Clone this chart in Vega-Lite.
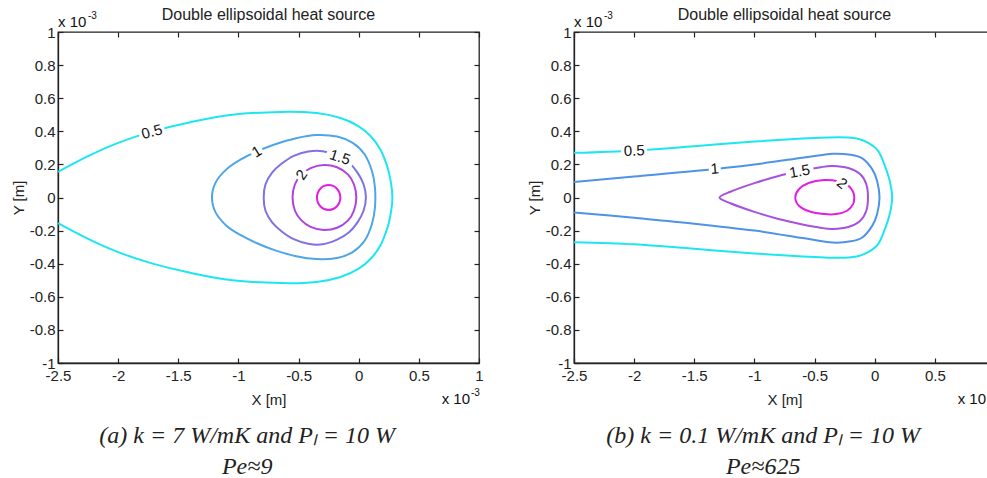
{
  "$schema": "https://vega.github.io/schema/vega-lite/v6.json",
  "padding": {"top": 6, "left": 10, "right": 0, "bottom": 0},
  "background": "white",
  "spacing": 42,
  "config": {
    "view": {"stroke": "#222", "strokeWidth": 1.3},
    "axis": {
      "grid": false, "domainColor": "#222", "domainWidth": 1.3, "tickColor": "#222", "tickWidth": 1.2, "tickSize": -5,
      "labelFont": "Liberation Sans", "labelFontSize": 15, "labelColor": "#222", "labelPadding": 8,
      "labelOverlap": false, "labelBound": false, "labelFlush": false,
      "titleFont": "Liberation Sans", "titleFontSize": 15, "titleFontWeight": "normal", "titleColor": "#222"
    },
    "axisX": {"labelPadding": 10},
    "title": {"font": "Liberation Sans", "fontSize": 16, "fontWeight": "normal", "color": "#222", "offset": -12},
    "text": {"font": "Liberation Sans", "fontSize": 15, "color": "#111"}
  },
  "datasets": {
    "contours": [
      {"panel":"a","level":"0.5","closed":false,"i":0,"x":-2.5,"y":0.155},
      {"panel":"a","level":"0.5","closed":false,"i":1,"x":-2.25,"y":0.25},
      {"panel":"a","level":"0.5","closed":false,"i":2,"x":-2.0,"y":0.33},
      {"panel":"a","level":"0.5","closed":false,"i":3,"x":-1.72,"y":0.398},
      {"panel":"a","level":"0.5","closed":false,"i":4,"x":-1.4,"y":0.455},
      {"panel":"a","level":"0.5","closed":false,"i":5,"x":-1.05,"y":0.5},
      {"panel":"a","level":"0.5","closed":false,"i":6,"x":-0.65,"y":0.517},
      {"panel":"a","level":"0.5","closed":false,"i":7,"x":-0.35,"y":0.51},
      {"panel":"a","level":"0.5","closed":false,"i":8,"x":-0.15,"y":0.48},
      {"panel":"a","level":"0.5","closed":false,"i":9,"x":0.0,"y":0.43},
      {"panel":"a","level":"0.5","closed":false,"i":10,"x":0.1,"y":0.37},
      {"panel":"a","level":"0.5","closed":false,"i":11,"x":0.18,"y":0.29},
      {"panel":"a","level":"0.5","closed":false,"i":12,"x":0.24,"y":0.18},
      {"panel":"a","level":"0.5","closed":false,"i":13,"x":0.27,"y":0.08},
      {"panel":"a","level":"0.5","closed":false,"i":14,"x":0.28,"y":0.0},
      {"panel":"a","level":"0.5","closed":false,"i":15,"x":0.27,"y":-0.08},
      {"panel":"a","level":"0.5","closed":false,"i":16,"x":0.24,"y":-0.18},
      {"panel":"a","level":"0.5","closed":false,"i":17,"x":0.18,"y":-0.29},
      {"panel":"a","level":"0.5","closed":false,"i":18,"x":0.1,"y":-0.37},
      {"panel":"a","level":"0.5","closed":false,"i":19,"x":0.0,"y":-0.43},
      {"panel":"a","level":"0.5","closed":false,"i":20,"x":-0.15,"y":-0.48},
      {"panel":"a","level":"0.5","closed":false,"i":21,"x":-0.35,"y":-0.51},
      {"panel":"a","level":"0.5","closed":false,"i":22,"x":-0.65,"y":-0.517},
      {"panel":"a","level":"0.5","closed":false,"i":23,"x":-1.05,"y":-0.5},
      {"panel":"a","level":"0.5","closed":false,"i":24,"x":-1.4,"y":-0.455},
      {"panel":"a","level":"0.5","closed":false,"i":25,"x":-1.72,"y":-0.398},
      {"panel":"a","level":"0.5","closed":false,"i":26,"x":-2.0,"y":-0.33},
      {"panel":"a","level":"0.5","closed":false,"i":27,"x":-2.25,"y":-0.25},
      {"panel":"a","level":"0.5","closed":false,"i":28,"x":-2.5,"y":-0.155},

      {"panel":"a","level":"1","closed":true,"i":0,"x":-1.22,"y":0.0},
      {"panel":"a","level":"1","closed":true,"i":1,"x":-1.19,"y":0.09},
      {"panel":"a","level":"1","closed":true,"i":2,"x":-1.1,"y":0.17},
      {"panel":"a","level":"1","closed":true,"i":3,"x":-0.98,"y":0.23},
      {"panel":"a","level":"1","closed":true,"i":4,"x":-0.85,"y":0.277},
      {"panel":"a","level":"1","closed":true,"i":5,"x":-0.7,"y":0.32},
      {"panel":"a","level":"1","closed":true,"i":6,"x":-0.52,"y":0.358},
      {"panel":"a","level":"1","closed":true,"i":7,"x":-0.35,"y":0.377},
      {"panel":"a","level":"1","closed":true,"i":8,"x":-0.18,"y":0.368},
      {"panel":"a","level":"1","closed":true,"i":9,"x":-0.05,"y":0.33},
      {"panel":"a","level":"1","closed":true,"i":10,"x":0.05,"y":0.26},
      {"panel":"a","level":"1","closed":true,"i":11,"x":0.11,"y":0.16},
      {"panel":"a","level":"1","closed":true,"i":12,"x":0.135,"y":0.06},
      {"panel":"a","level":"1","closed":true,"i":13,"x":0.135,"y":-0.06},
      {"panel":"a","level":"1","closed":true,"i":14,"x":0.11,"y":-0.16},
      {"panel":"a","level":"1","closed":true,"i":15,"x":0.05,"y":-0.26},
      {"panel":"a","level":"1","closed":true,"i":16,"x":-0.05,"y":-0.33},
      {"panel":"a","level":"1","closed":true,"i":17,"x":-0.18,"y":-0.365},
      {"panel":"a","level":"1","closed":true,"i":18,"x":-0.35,"y":-0.372},
      {"panel":"a","level":"1","closed":true,"i":19,"x":-0.52,"y":-0.355},
      {"panel":"a","level":"1","closed":true,"i":20,"x":-0.7,"y":-0.318},
      {"panel":"a","level":"1","closed":true,"i":21,"x":-0.85,"y":-0.275},
      {"panel":"a","level":"1","closed":true,"i":22,"x":-0.98,"y":-0.228},
      {"panel":"a","level":"1","closed":true,"i":23,"x":-1.1,"y":-0.17},
      {"panel":"a","level":"1","closed":true,"i":24,"x":-1.19,"y":-0.09},

      {"panel":"a","level":"1.5","closed":true,"i":0,"x":-0.79,"y":0.0},
      {"panel":"a","level":"1.5","closed":true,"i":1,"x":-0.775,"y":0.08},
      {"panel":"a","level":"1.5","closed":true,"i":2,"x":-0.72,"y":0.15},
      {"panel":"a","level":"1.5","closed":true,"i":3,"x":-0.64,"y":0.205},
      {"panel":"a","level":"1.5","closed":true,"i":4,"x":-0.54,"y":0.252},
      {"panel":"a","level":"1.5","closed":true,"i":5,"x":-0.42,"y":0.278},
      {"panel":"a","level":"1.5","closed":true,"i":6,"x":-0.3,"y":0.28},
      {"panel":"a","level":"1.5","closed":true,"i":7,"x":-0.18,"y":0.255},
      {"panel":"a","level":"1.5","closed":true,"i":8,"x":-0.08,"y":0.21},
      {"panel":"a","level":"1.5","closed":true,"i":9,"x":-0.01,"y":0.15},
      {"panel":"a","level":"1.5","closed":true,"i":10,"x":0.04,"y":0.08},
      {"panel":"a","level":"1.5","closed":true,"i":11,"x":0.06,"y":0.0},
      {"panel":"a","level":"1.5","closed":true,"i":12,"x":0.04,"y":-0.08},
      {"panel":"a","level":"1.5","closed":true,"i":13,"x":-0.01,"y":-0.15},
      {"panel":"a","level":"1.5","closed":true,"i":14,"x":-0.08,"y":-0.21},
      {"panel":"a","level":"1.5","closed":true,"i":15,"x":-0.18,"y":-0.255},
      {"panel":"a","level":"1.5","closed":true,"i":16,"x":-0.3,"y":-0.283},
      {"panel":"a","level":"1.5","closed":true,"i":17,"x":-0.42,"y":-0.28},
      {"panel":"a","level":"1.5","closed":true,"i":18,"x":-0.54,"y":-0.252},
      {"panel":"a","level":"1.5","closed":true,"i":19,"x":-0.64,"y":-0.205},
      {"panel":"a","level":"1.5","closed":true,"i":20,"x":-0.72,"y":-0.15},
      {"panel":"a","level":"1.5","closed":true,"i":21,"x":-0.775,"y":-0.08},

      {"panel":"a","level":"2","closed":true,"i":0,"x":-0.55,"y":0.0},
      {"panel":"a","level":"2","closed":true,"i":1,"x":-0.53,"y":0.08},
      {"panel":"a","level":"2","closed":true,"i":2,"x":-0.48,"y":0.135},
      {"panel":"a","level":"2","closed":true,"i":3,"x":-0.4,"y":0.178},
      {"panel":"a","level":"2","closed":true,"i":4,"x":-0.29,"y":0.197},
      {"panel":"a","level":"2","closed":true,"i":5,"x":-0.18,"y":0.183},
      {"panel":"a","level":"2","closed":true,"i":6,"x":-0.09,"y":0.14},
      {"panel":"a","level":"2","closed":true,"i":7,"x":-0.04,"y":0.08},
      {"panel":"a","level":"2","closed":true,"i":8,"x":-0.02,"y":0.0},
      {"panel":"a","level":"2","closed":true,"i":9,"x":-0.04,"y":-0.08},
      {"panel":"a","level":"2","closed":true,"i":10,"x":-0.09,"y":-0.14},
      {"panel":"a","level":"2","closed":true,"i":11,"x":-0.18,"y":-0.183},
      {"panel":"a","level":"2","closed":true,"i":12,"x":-0.29,"y":-0.197},
      {"panel":"a","level":"2","closed":true,"i":13,"x":-0.4,"y":-0.178},
      {"panel":"a","level":"2","closed":true,"i":14,"x":-0.48,"y":-0.135},
      {"panel":"a","level":"2","closed":true,"i":15,"x":-0.53,"y":-0.08},

      {"panel":"a","level":"2.5","closed":true,"i":0,"x":-0.153,"y":0.0},
      {"panel":"a","level":"2.5","closed":true,"i":1,"x":-0.181,"y":0.053},
      {"panel":"a","level":"2.5","closed":true,"i":2,"x":-0.25,"y":0.075},
      {"panel":"a","level":"2.5","closed":true,"i":3,"x":-0.319,"y":0.053},
      {"panel":"a","level":"2.5","closed":true,"i":4,"x":-0.347,"y":0.0},
      {"panel":"a","level":"2.5","closed":true,"i":5,"x":-0.319,"y":-0.053},
      {"panel":"a","level":"2.5","closed":true,"i":6,"x":-0.25,"y":-0.075},
      {"panel":"a","level":"2.5","closed":true,"i":7,"x":-0.181,"y":-0.053},

      {"panel":"b","level":"0.5","closed":false,"i":0,"x":-2.5,"y":0.27},
      {"panel":"b","level":"0.5","closed":false,"i":1,"x":-2.0,"y":0.283},
      {"panel":"b","level":"0.5","closed":false,"i":2,"x":-1.5,"y":0.31},
      {"panel":"b","level":"0.5","closed":false,"i":3,"x":-1.0,"y":0.338},
      {"panel":"b","level":"0.5","closed":false,"i":4,"x":-0.6,"y":0.356},
      {"panel":"b","level":"0.5","closed":false,"i":5,"x":-0.3,"y":0.364},
      {"panel":"b","level":"0.5","closed":false,"i":6,"x":-0.15,"y":0.356},
      {"panel":"b","level":"0.5","closed":false,"i":7,"x":-0.05,"y":0.328},
      {"panel":"b","level":"0.5","closed":false,"i":8,"x":0.03,"y":0.28},
      {"panel":"b","level":"0.5","closed":false,"i":9,"x":0.085,"y":0.19},
      {"panel":"b","level":"0.5","closed":false,"i":10,"x":0.125,"y":0.1},
      {"panel":"b","level":"0.5","closed":false,"i":11,"x":0.145,"y":0.0},
      {"panel":"b","level":"0.5","closed":false,"i":12,"x":0.125,"y":-0.1},
      {"panel":"b","level":"0.5","closed":false,"i":13,"x":0.085,"y":-0.19},
      {"panel":"b","level":"0.5","closed":false,"i":14,"x":0.03,"y":-0.28},
      {"panel":"b","level":"0.5","closed":false,"i":15,"x":-0.05,"y":-0.328},
      {"panel":"b","level":"0.5","closed":false,"i":16,"x":-0.15,"y":-0.356},
      {"panel":"b","level":"0.5","closed":false,"i":17,"x":-0.3,"y":-0.364},
      {"panel":"b","level":"0.5","closed":false,"i":18,"x":-0.6,"y":-0.356},
      {"panel":"b","level":"0.5","closed":false,"i":19,"x":-1.0,"y":-0.338},
      {"panel":"b","level":"0.5","closed":false,"i":20,"x":-1.5,"y":-0.31},
      {"panel":"b","level":"0.5","closed":false,"i":21,"x":-2.0,"y":-0.283},
      {"panel":"b","level":"0.5","closed":false,"i":22,"x":-2.5,"y":-0.27},

      {"panel":"b","level":"1","closed":false,"i":0,"x":-2.5,"y":0.094},
      {"panel":"b","level":"1","closed":false,"i":1,"x":-2.0,"y":0.127},
      {"panel":"b","level":"1","closed":false,"i":2,"x":-1.5,"y":0.16},
      {"panel":"b","level":"1","closed":false,"i":3,"x":-1.0,"y":0.2},
      {"panel":"b","level":"1","closed":false,"i":4,"x":-0.6,"y":0.24},
      {"panel":"b","level":"1","closed":false,"i":5,"x":-0.35,"y":0.264},
      {"panel":"b","level":"1","closed":false,"i":6,"x":-0.2,"y":0.258},
      {"panel":"b","level":"1","closed":false,"i":7,"x":-0.1,"y":0.235},
      {"panel":"b","level":"1","closed":false,"i":8,"x":-0.02,"y":0.17},
      {"panel":"b","level":"1","closed":false,"i":9,"x":0.02,"y":0.1},
      {"panel":"b","level":"1","closed":false,"i":10,"x":0.04,"y":0.0},
      {"panel":"b","level":"1","closed":false,"i":11,"x":0.02,"y":-0.1},
      {"panel":"b","level":"1","closed":false,"i":12,"x":-0.02,"y":-0.17},
      {"panel":"b","level":"1","closed":false,"i":13,"x":-0.1,"y":-0.24},
      {"panel":"b","level":"1","closed":false,"i":14,"x":-0.2,"y":-0.265},
      {"panel":"b","level":"1","closed":false,"i":15,"x":-0.35,"y":-0.272},
      {"panel":"b","level":"1","closed":false,"i":16,"x":-0.6,"y":-0.245},
      {"panel":"b","level":"1","closed":false,"i":17,"x":-1.0,"y":-0.2},
      {"panel":"b","level":"1","closed":false,"i":18,"x":-1.5,"y":-0.158},
      {"panel":"b","level":"1","closed":false,"i":19,"x":-2.0,"y":-0.123},
      {"panel":"b","level":"1","closed":false,"i":20,"x":-2.5,"y":-0.09},

      {"panel":"b","level":"1.5","closed":true,"i":0,"x":-1.29,"y":0.0},
      {"panel":"b","level":"1.5","closed":true,"i":1,"x":-1.2,"y":0.035},
      {"panel":"b","level":"1.5","closed":true,"i":2,"x":-1.0,"y":0.087},
      {"panel":"b","level":"1.5","closed":true,"i":3,"x":-0.8,"y":0.13},
      {"panel":"b","level":"1.5","closed":true,"i":4,"x":-0.62,"y":0.16},
      {"panel":"b","level":"1.5","closed":true,"i":5,"x":-0.45,"y":0.183},
      {"panel":"b","level":"1.5","closed":true,"i":6,"x":-0.35,"y":0.19},
      {"panel":"b","level":"1.5","closed":true,"i":7,"x":-0.22,"y":0.178},
      {"panel":"b","level":"1.5","closed":true,"i":8,"x":-0.12,"y":0.14},
      {"panel":"b","level":"1.5","closed":true,"i":9,"x":-0.07,"y":0.08},
      {"panel":"b","level":"1.5","closed":true,"i":10,"x":-0.056,"y":0.0},
      {"panel":"b","level":"1.5","closed":true,"i":11,"x":-0.07,"y":-0.08},
      {"panel":"b","level":"1.5","closed":true,"i":12,"x":-0.12,"y":-0.14},
      {"panel":"b","level":"1.5","closed":true,"i":13,"x":-0.22,"y":-0.178},
      {"panel":"b","level":"1.5","closed":true,"i":14,"x":-0.35,"y":-0.19},
      {"panel":"b","level":"1.5","closed":true,"i":15,"x":-0.45,"y":-0.183},
      {"panel":"b","level":"1.5","closed":true,"i":16,"x":-0.62,"y":-0.16},
      {"panel":"b","level":"1.5","closed":true,"i":17,"x":-0.8,"y":-0.13},
      {"panel":"b","level":"1.5","closed":true,"i":18,"x":-1.0,"y":-0.087},
      {"panel":"b","level":"1.5","closed":true,"i":19,"x":-1.2,"y":-0.035},

      {"panel":"b","level":"2","closed":true,"i":0,"x":-0.66,"y":0.0},
      {"panel":"b","level":"2","closed":true,"i":1,"x":-0.63,"y":0.05},
      {"panel":"b","level":"2","closed":true,"i":2,"x":-0.55,"y":0.088},
      {"panel":"b","level":"2","closed":true,"i":3,"x":-0.42,"y":0.105},
      {"panel":"b","level":"2","closed":true,"i":4,"x":-0.3,"y":0.097},
      {"panel":"b","level":"2","closed":true,"i":5,"x":-0.22,"y":0.072},
      {"panel":"b","level":"2","closed":true,"i":6,"x":-0.18,"y":0.035},
      {"panel":"b","level":"2","closed":true,"i":7,"x":-0.17,"y":0.0},
      {"panel":"b","level":"2","closed":true,"i":8,"x":-0.18,"y":-0.04},
      {"panel":"b","level":"2","closed":true,"i":9,"x":-0.23,"y":-0.08},
      {"panel":"b","level":"2","closed":true,"i":10,"x":-0.32,"y":-0.1},
      {"panel":"b","level":"2","closed":true,"i":11,"x":-0.42,"y":-0.1},
      {"panel":"b","level":"2","closed":true,"i":12,"x":-0.54,"y":-0.085},
      {"panel":"b","level":"2","closed":true,"i":13,"x":-0.63,"y":-0.05}
    ],
    "labels": [
      {"panel":"a","label":"0.5","x":-1.72,"y":0.398},
      {"panel":"a","label":"1","x":-0.848,"y":0.277},
      {"panel":"a","label":"1.5","x":-0.156,"y":0.244},
      {"panel":"a","label":"2","x":-0.475,"y":0.138},
      {"panel":"b","label":"0.5","x":-2.0,"y":0.283},
      {"panel":"b","label":"1","x":-1.33,"y":0.174},
      {"panel":"b","label":"1.5","x":-0.624,"y":0.159},
      {"panel":"b","label":"2","x":-0.27,"y":0.085}
    ],
    "one": [{}]
  },
  "resolve": {"scale": {"color": "independent"}},
  "hconcat": [
    {
      "title": {"text": "(a) k = 7 W/mK and Pₗ = 10 W", "subtitle": "Pe≈9", "orient": "bottom", "anchor": "middle", "frame": "bounds",
        "font": "Liberation Serif", "fontSize": 24, "fontStyle": "italic", "fontWeight": "normal", "color": "#222", "offset": 16,
        "subtitleFont": "Liberation Serif", "subtitleFontSize": 24, "subtitleFontStyle": "italic", "subtitleColor": "#222", "subtitlePadding": 7},
      "vconcat": [
        {
          "width": 421, "height": 331,
          "title": "Double ellipsoidal heat source",
          "layer": [
            {
              "data": {"name": "contours"},
              "transform": [{"filter": "datum.panel == 'a' && !datum.closed"}],
              "mark": {"type": "line", "interpolate": "cardinal", "strokeWidth": 2},
              "encoding": {
                "x": {"field": "x", "type": "quantitative", "scale": {"domain": [-2.5, 1], "nice": false, "zero": false},
                  "axis": {"orient": "bottom", "title": "X [m]", "values": [-2.5, -2, -1.5, -1, -0.5, 0, 0.5, 1],
                    "labelExpr": "datum.value < 0 ? '-' + format(-datum.value, '~g') : format(datum.value, '~g')", "titlePadding": 9}},
                "y": {"field": "y", "type": "quantitative", "scale": {"domain": [-1, 1], "nice": false, "zero": false},
                  "axis": {"orient": "left", "title": "Y [m]", "values": [-1, -0.8, -0.6, -0.4, -0.2, 0, 0.2, 0.4, 0.6, 0.8, 1],
                    "labelExpr": "datum.value < 0 ? '-' + format(-datum.value, '~g') : format(datum.value, '~g')", "titlePadding": 3}},
                "color": {"field": "level", "type": "nominal", "legend": null,
                  "scale": {"domain": ["0.5", "1", "1.5", "2", "2.5"], "range": ["#1ee6f0", "#4ea6e6", "#7f72e6", "#b043e0", "#e31ee3"]}},
                "detail": {"field": "level"},
                "order": {"field": "i", "type": "quantitative"}
              }
            },
            {
              "data": {"name": "contours"},
              "transform": [{"filter": "datum.panel == 'a' && datum.closed"}],
              "mark": {"type": "line", "interpolate": "cardinal-closed", "strokeWidth": 2},
              "encoding": {
                "x": {"field": "x", "type": "quantitative", "axis": null},
                "y": {"field": "y", "type": "quantitative", "axis": null},
                "color": {"field": "level", "type": "nominal", "legend": null},
                "detail": {"field": "level"},
                "order": {"field": "i", "type": "quantitative"}
              }
            },
            {
              "data": {"name": "labels"},
              "transform": [{"filter": "datum.panel == 'a' && datum.label == '0.5'"}],
              "mark": {"type": "point", "shape": "M-1,-0.5H1V0.5H-1Z", "size": 676, "angle": -15, "filled": true, "fill": "white", "opacity": 1, "strokeWidth": 0},
              "encoding": {
                "x": {"field": "x", "type": "quantitative", "axis": {"orient": "top", "labels": false, "title": null, "domain": false, "values": [-2.5, -2, -1.5, -1, -0.5, 0, 0.5, 1]}},
                "y": {"field": "y", "type": "quantitative", "axis": {"orient": "right", "labels": false, "title": null, "domain": false, "values": [-1, -0.8, -0.6, -0.4, -0.2, 0, 0.2, 0.4, 0.6, 0.8, 1]}}
              }
            },
            {
              "data": {"name": "labels"},
              "transform": [{"filter": "datum.panel == 'a' && datum.label == '1'"}],
              "mark": {"type": "point", "shape": "square", "size": 144, "angle": -32, "filled": true, "fill": "white", "opacity": 1, "strokeWidth": 0},
              "encoding": {"x": {"field": "x", "type": "quantitative", "axis": null}, "y": {"field": "y", "type": "quantitative", "axis": null}}
            },
            {
              "data": {"name": "labels"},
              "transform": [{"filter": "datum.panel == 'a' && datum.label == '1.5'"}],
              "mark": {"type": "point", "shape": "M-1,-0.5H1V0.5H-1Z", "size": 784, "angle": 18, "filled": true, "fill": "white", "opacity": 1, "strokeWidth": 0},
              "encoding": {"x": {"field": "x", "type": "quantitative", "axis": null}, "y": {"field": "y", "type": "quantitative", "axis": null}}
            },
            {
              "data": {"name": "labels"},
              "transform": [{"filter": "datum.panel == 'a' && datum.label == '2'"}],
              "mark": {"type": "point", "shape": "square", "size": 144, "angle": -55, "filled": true, "fill": "white", "opacity": 1, "strokeWidth": 0},
              "encoding": {"x": {"field": "x", "type": "quantitative", "axis": null}, "y": {"field": "y", "type": "quantitative", "axis": null}}
            },
            {
              "data": {"name": "labels"},
              "transform": [{"filter": "datum.panel == 'a' && datum.label == '0.5'"}],
              "mark": {"type": "text", "align": "center", "baseline": "middle", "angle": -15},
              "encoding": {"x": {"field": "x", "type": "quantitative", "axis": null}, "y": {"field": "y", "type": "quantitative", "axis": null}, "text": {"field": "label"}}
            },
            {
              "data": {"name": "labels"},
              "transform": [{"filter": "datum.panel == 'a' && datum.label == '1'"}],
              "mark": {"type": "text", "align": "center", "baseline": "middle", "angle": -32},
              "encoding": {"x": {"field": "x", "type": "quantitative", "axis": null}, "y": {"field": "y", "type": "quantitative", "axis": null}, "text": {"field": "label"}}
            },
            {
              "data": {"name": "labels"},
              "transform": [{"filter": "datum.panel == 'a' && datum.label == '1.5'"}],
              "mark": {"type": "text", "align": "center", "baseline": "middle", "angle": 18},
              "encoding": {"x": {"field": "x", "type": "quantitative", "axis": null}, "y": {"field": "y", "type": "quantitative", "axis": null}, "text": {"field": "label"}}
            },
            {
              "data": {"name": "labels"},
              "transform": [{"filter": "datum.panel == 'a' && datum.label == '2'"}],
              "mark": {"type": "text", "align": "center", "baseline": "middle", "angle": -55},
              "encoding": {"x": {"field": "x", "type": "quantitative", "axis": null}, "y": {"field": "y", "type": "quantitative", "axis": null}, "text": {"field": "label"}}
            },
            {
              "data": {"name": "one"},
              "mark": {"type": "text", "text": "x 10", "align": "left", "baseline": "alphabetic", "dx": 0, "dy": -5},
              "encoding": {"x": {"datum": -2.5, "axis": null}, "y": {"datum": 1, "axis": null}}
            },
            {
              "data": {"name": "one"},
              "mark": {"type": "text", "text": "-3", "align": "left", "baseline": "alphabetic", "fontSize": 10, "dx": 30, "dy": -13},
              "encoding": {"x": {"datum": -2.5, "axis": null}, "y": {"datum": 1, "axis": null}}
            },
            {
              "data": {"name": "one"},
              "mark": {"type": "text", "text": "x 10", "align": "right", "baseline": "alphabetic", "dx": -9, "dy": 41},
              "encoding": {"x": {"datum": 1, "axis": null}, "y": {"datum": -1, "axis": null}}
            },
            {
              "data": {"name": "one"},
              "mark": {"type": "text", "text": "-3", "align": "left", "baseline": "alphabetic", "fontSize": 10, "dx": -8, "dy": 33},
              "encoding": {"x": {"datum": 1, "axis": null}, "y": {"datum": -1, "axis": null}}
            }
          ]
        }
      ]
    },
    {
      "title": {"text": "(b) k = 0.1 W/mK and Pₗ = 10 W", "subtitle": "Pe≈625", "orient": "bottom", "anchor": "middle", "frame": "bounds",
        "font": "Liberation Serif", "fontSize": 24, "fontStyle": "italic", "fontWeight": "normal", "color": "#222", "offset": 16,
        "subtitleFont": "Liberation Serif", "subtitleFontSize": 24, "subtitleFontStyle": "italic", "subtitleColor": "#222", "subtitlePadding": 7},
      "vconcat": [
        {
          "width": 421, "height": 331,
          "title": "Double ellipsoidal heat source",
          "layer": [
            {
              "data": {"name": "contours"},
              "transform": [{"filter": "datum.panel == 'b' && !datum.closed"}],
              "mark": {"type": "line", "interpolate": "cardinal", "strokeWidth": 2},
              "encoding": {
                "x": {"field": "x", "type": "quantitative", "scale": {"domain": [-2.5, 1], "nice": false, "zero": false},
                  "axis": {"orient": "bottom", "title": "X [m]", "values": [-2.5, -2, -1.5, -1, -0.5, 0, 0.5, 1],
                    "labelExpr": "datum.value < 0 ? '-' + format(-datum.value, '~g') : format(datum.value, '~g')", "titlePadding": 9}},
                "y": {"field": "y", "type": "quantitative", "scale": {"domain": [-1, 1], "nice": false, "zero": false},
                  "axis": {"orient": "left", "title": "Y [m]", "values": [-1, -0.8, -0.6, -0.4, -0.2, 0, 0.2, 0.4, 0.6, 0.8, 1],
                    "labelExpr": "datum.value < 0 ? '-' + format(-datum.value, '~g') : format(datum.value, '~g')", "titlePadding": 3}},
                "color": {"field": "level", "type": "nominal", "legend": null,
                  "scale": {"domain": ["0.5", "1", "1.5", "2"], "range": ["#1ee6f0", "#4f93e6", "#a452e0", "#e31ee3"]}},
                "detail": {"field": "level"},
                "order": {"field": "i", "type": "quantitative"}
              }
            },
            {
              "data": {"name": "contours"},
              "transform": [{"filter": "datum.panel == 'b' && datum.closed"}],
              "mark": {"type": "line", "interpolate": "cardinal-closed", "strokeWidth": 2},
              "encoding": {
                "x": {"field": "x", "type": "quantitative", "axis": null},
                "y": {"field": "y", "type": "quantitative", "axis": null},
                "color": {"field": "level", "type": "nominal", "legend": null},
                "detail": {"field": "level"},
                "order": {"field": "i", "type": "quantitative"}
              }
            },
            {
              "data": {"name": "labels"},
              "transform": [{"filter": "datum.panel == 'b' && datum.label == '0.5'"}],
              "mark": {"type": "point", "shape": "M-1,-0.5H1V0.5H-1Z", "size": 676, "angle": -2, "filled": true, "fill": "white", "opacity": 1, "strokeWidth": 0},
              "encoding": {
                "x": {"field": "x", "type": "quantitative", "axis": {"orient": "top", "labels": false, "title": null, "domain": false, "values": [-2.5, -2, -1.5, -1, -0.5, 0, 0.5, 1]}},
                "y": {"field": "y", "type": "quantitative", "axis": {"orient": "right", "labels": false, "title": null, "domain": false, "values": [-1, -0.8, -0.6, -0.4, -0.2, 0, 0.2, 0.4, 0.6, 0.8, 1]}}
              }
            },
            {
              "data": {"name": "labels"},
              "transform": [{"filter": "datum.panel == 'b' && datum.label == '1'"}],
              "mark": {"type": "point", "shape": "square", "size": 144, "angle": -5, "filled": true, "fill": "white", "opacity": 1, "strokeWidth": 0},
              "encoding": {"x": {"field": "x", "type": "quantitative", "axis": null}, "y": {"field": "y", "type": "quantitative", "axis": null}}
            },
            {
              "data": {"name": "labels"},
              "transform": [{"filter": "datum.panel == 'b' && datum.label == '1.5'"}],
              "mark": {"type": "point", "shape": "M-1,-0.5H1V0.5H-1Z", "size": 784, "angle": -10, "filled": true, "fill": "white", "opacity": 1, "strokeWidth": 0},
              "encoding": {"x": {"field": "x", "type": "quantitative", "axis": null}, "y": {"field": "y", "type": "quantitative", "axis": null}}
            },
            {
              "data": {"name": "labels"},
              "transform": [{"filter": "datum.panel == 'b' && datum.label == '2'"}],
              "mark": {"type": "point", "shape": "square", "size": 144, "angle": 40, "filled": true, "fill": "white", "opacity": 1, "strokeWidth": 0},
              "encoding": {"x": {"field": "x", "type": "quantitative", "axis": null}, "y": {"field": "y", "type": "quantitative", "axis": null}}
            },
            {
              "data": {"name": "labels"},
              "transform": [{"filter": "datum.panel == 'b' && datum.label == '0.5'"}],
              "mark": {"type": "text", "align": "center", "baseline": "middle", "angle": -2},
              "encoding": {"x": {"field": "x", "type": "quantitative", "axis": null}, "y": {"field": "y", "type": "quantitative", "axis": null}, "text": {"field": "label"}}
            },
            {
              "data": {"name": "labels"},
              "transform": [{"filter": "datum.panel == 'b' && datum.label == '1'"}],
              "mark": {"type": "text", "align": "center", "baseline": "middle", "angle": -5},
              "encoding": {"x": {"field": "x", "type": "quantitative", "axis": null}, "y": {"field": "y", "type": "quantitative", "axis": null}, "text": {"field": "label"}}
            },
            {
              "data": {"name": "labels"},
              "transform": [{"filter": "datum.panel == 'b' && datum.label == '1.5'"}],
              "mark": {"type": "text", "align": "center", "baseline": "middle", "angle": -10},
              "encoding": {"x": {"field": "x", "type": "quantitative", "axis": null}, "y": {"field": "y", "type": "quantitative", "axis": null}, "text": {"field": "label"}}
            },
            {
              "data": {"name": "labels"},
              "transform": [{"filter": "datum.panel == 'b' && datum.label == '2'"}],
              "mark": {"type": "text", "align": "center", "baseline": "middle", "angle": 40},
              "encoding": {"x": {"field": "x", "type": "quantitative", "axis": null}, "y": {"field": "y", "type": "quantitative", "axis": null}, "text": {"field": "label"}}
            },
            {
              "data": {"name": "one"},
              "mark": {"type": "text", "text": "x 10", "align": "left", "baseline": "alphabetic", "dx": 0, "dy": -5},
              "encoding": {"x": {"datum": -2.5, "axis": null}, "y": {"datum": 1, "axis": null}}
            },
            {
              "data": {"name": "one"},
              "mark": {"type": "text", "text": "-3", "align": "left", "baseline": "alphabetic", "fontSize": 10, "dx": 30, "dy": -13},
              "encoding": {"x": {"datum": -2.5, "axis": null}, "y": {"datum": 1, "axis": null}}
            },
            {
              "data": {"name": "one"},
              "mark": {"type": "text", "text": "x 10", "align": "right", "baseline": "alphabetic", "dx": -9, "dy": 41},
              "encoding": {"x": {"datum": 1, "axis": null}, "y": {"datum": -1, "axis": null}}
            },
            {
              "data": {"name": "one"},
              "mark": {"type": "text", "text": "-3", "align": "left", "baseline": "alphabetic", "fontSize": 10, "dx": -8, "dy": 33},
              "encoding": {"x": {"datum": 1, "axis": null}, "y": {"datum": -1, "axis": null}}
            }
          ]
        }
      ]
    }
  ]
}
